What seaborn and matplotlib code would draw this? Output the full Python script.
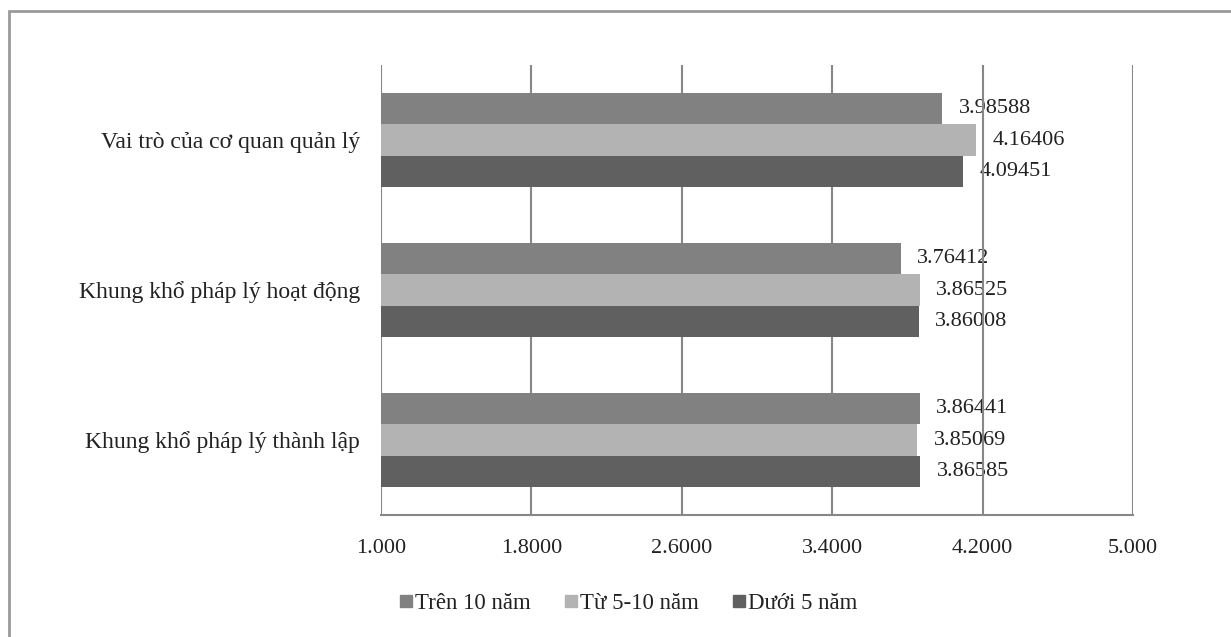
import matplotlib
matplotlib.use("Agg")
import matplotlib.pyplot as plt
import seaborn as sns
import pandas as pd
from matplotlib.patches import Rectangle
from matplotlib.lines import Line2D

categories = ["Vai trò của cơ quan quản lý", "Khung khổ pháp lý hoạt động", "Khung khổ pháp lý thành lập"]
series = ["Trên 10 năm", "Từ 5-10 năm", "Dưới 5 năm"]
tren_10 = [3.98588, 3.76412, 3.86441]
tu_5_10 = [4.16406, 3.86525, 3.85069]
duoi_5 = [4.09451, 3.86008, 3.86585]
tick_values = [1.0, 1.8, 2.6, 3.4, 4.2, 5.0]
tick_labels = ["1.000", "1.8000", "2.6000", "3.4000", "4.2000", "5.000"]
colors = ["#818181", "#b3b3b3", "#606060"]

rows = []
for s, vals in zip(series, [tren_10, tu_5_10, duoi_5]):
    for c, v in zip(categories, vals):
        rows.append({"cat": c, "series": s, "value": v})
df = pd.DataFrame(rows)

sns.set_theme(style="white")
plt.rcParams["font.family"] = ["Liberation Serif", "DejaVu Serif"]
FS = 16

fig = plt.figure(figsize=(12.31, 6.37), dpi=100)
ax = fig.add_axes([381/1231, 1-515/637, (1133-381)/1231, (515-65)/637])

sns.barplot(data=df, y="cat", x="value", hue="series", order=categories,
            hue_order=series, palette=colors, width=0.63, orient="h",
            ax=ax, legend=False, saturation=1, zorder=3, linewidth=0)

ax.set_xlim(1.0, 5.0)
ax.set_ylim(2.5, -0.5)
ax.set_xticks(tick_values)
ax.set_xticklabels(tick_labels, fontsize=FS, color="#222222")
ax.tick_params(axis="x", length=0, pad=17)
ax.tick_params(axis="y", length=0, pad=15, labelsize=17, labelcolor="#222222")
ax.set_xlabel("")
ax.set_ylabel("")
ax.xaxis.grid(True, color="#878787", linewidth=1.5, zorder=2)
ax.set_axisbelow(False)
for side in ["top", "left", "right"]:
    ax.spines[side].set_visible(False)
ax.spines["bottom"].set_color("#878787")
ax.spines["bottom"].set_linewidth(1.5)
ax.spines["bottom"].set_zorder(4)

for cont in ax.containers:
    labels = ax.bar_label(cont, fmt="%.5f", padding=12, fontsize=FS, color="#222222")
    for t in labels:
        t.set_zorder(1)

handles = [Line2D([0], [0], marker="s", color="w", markerfacecolor=c,
                  markeredgecolor=c, markersize=9, linestyle="") for c in colors]
fig.legend(handles, series, loc="center", bbox_to_anchor=(627/1231, 1-603/637),
           ncol=3, frameon=False, fontsize=16.5, handletextpad=0.0,
           columnspacing=1.35, handlelength=0.8, labelcolor="#222222")

fig.patches.append(Rectangle((9/1231, -0.1), 1.2, 1 - 11/637 + 0.1,
                             transform=fig.transFigure, fill=False,
                             edgecolor="#9a9a9a", linewidth=2, zorder=0))

fig.savefig("out.png", dpi=100)
